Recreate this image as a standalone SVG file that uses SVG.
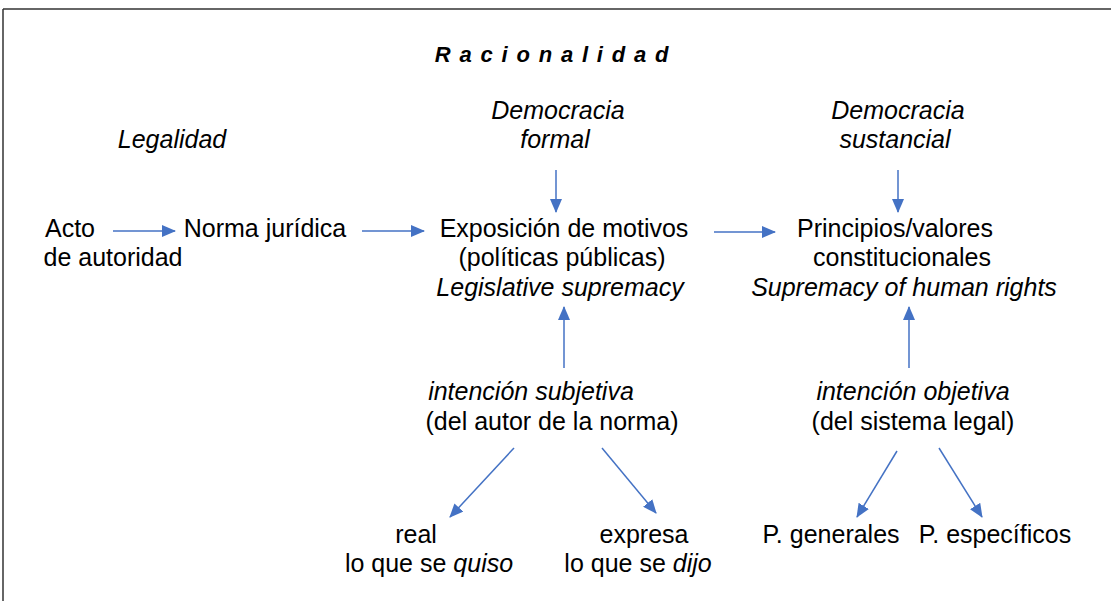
<svg xmlns="http://www.w3.org/2000/svg" width="1111" height="601" viewBox="0 0 1111 601">
<defs>
<marker id="ah" viewBox="0 0 14 12" refX="13" refY="6" markerWidth="14" markerHeight="12" markerUnits="userSpaceOnUse" orient="auto">
<path d="M0,0 L14,6 L0,12 z" fill="#4472c4"/>
</marker>
<style>
text{font-family:"Liberation Sans",Arial,sans-serif;font-size:25px;fill:#000;text-anchor:middle}
.i{font-style:italic}
.c line{stroke:#4472c4;stroke-width:1.5;marker-end:url(#ah)}
</style>
</defs>
<rect width="1111" height="601" fill="#fff"/>
<line x1="3" y1="9" x2="1111" y2="9" stroke="#333" stroke-width="1.5"/>
<line x1="3" y1="9" x2="3" y2="601" stroke="#333" stroke-width="1.5"/>
<g id="title"><text x="556" y="62" style="font-weight:bold;font-style:italic;font-size:22px;letter-spacing:8.8px">Racionalidad</text></g>
<g id="legalidad"><text class="i" x="172" y="148">Legalidad</text></g>
<g id="demformal"><text class="i" x="558" y="119">Democracia</text><text class="i" x="555" y="148">formal</text></g>
<g id="demsust"><text class="i" x="898" y="119">Democracia</text><text class="i" x="895" y="148">sustancial</text></g>
<g id="acto"><text x="70" y="237">Acto</text><text x="113" y="266">de autoridad</text></g>
<g id="norma"><text x="265" y="237">Norma jurídica</text></g>
<g id="exposicion"><text x="564" y="237">Exposición de motivos</text><text x="562" y="266">(políticas públicas)</text><text class="i" x="560" y="296">Legislative supremacy</text></g>
<g id="principios"><text x="895" y="237">Principios/valores</text><text x="902" y="266">constitucionales</text><text class="i" x="904" y="296">Supremacy of human rights</text></g>
<g id="subjetiva"><text class="i" x="531" y="400">intención subjetiva</text><text x="552" y="430">(del autor de la norma)</text></g>
<g id="objetiva"><text class="i" x="913" y="400">intención objetiva</text><text x="913" y="430">(del sistema legal)</text></g>
<g id="real"><text x="416" y="543">real</text><text x="429" y="572">lo que se <tspan class="i">quiso</tspan></text></g>
<g id="expresa"><text x="644" y="543">expresa</text><text x="638" y="572">lo que se <tspan class="i">dijo</tspan></text></g>
<g id="generales"><text x="831" y="543">P. generales</text></g>
<g id="especificos"><text x="995" y="543">P. específicos</text></g>
<g class="c" id="connectors">
<line x1="113" y1="231" x2="175" y2="231"/>
<line x1="362" y1="231" x2="424" y2="231"/>
<line x1="714" y1="232" x2="775" y2="232"/>
<line x1="556" y1="170" x2="556" y2="212"/>
<line x1="898" y1="170" x2="898" y2="212"/>
<line x1="564" y1="368" x2="564" y2="307"/>
<line x1="909" y1="368" x2="909" y2="307"/>
<line x1="514" y1="448" x2="450" y2="517"/>
<line x1="602" y1="448" x2="656" y2="513"/>
<line x1="897" y1="451" x2="857" y2="517"/>
<line x1="939" y1="448" x2="982" y2="517"/>
</g>
</svg>
